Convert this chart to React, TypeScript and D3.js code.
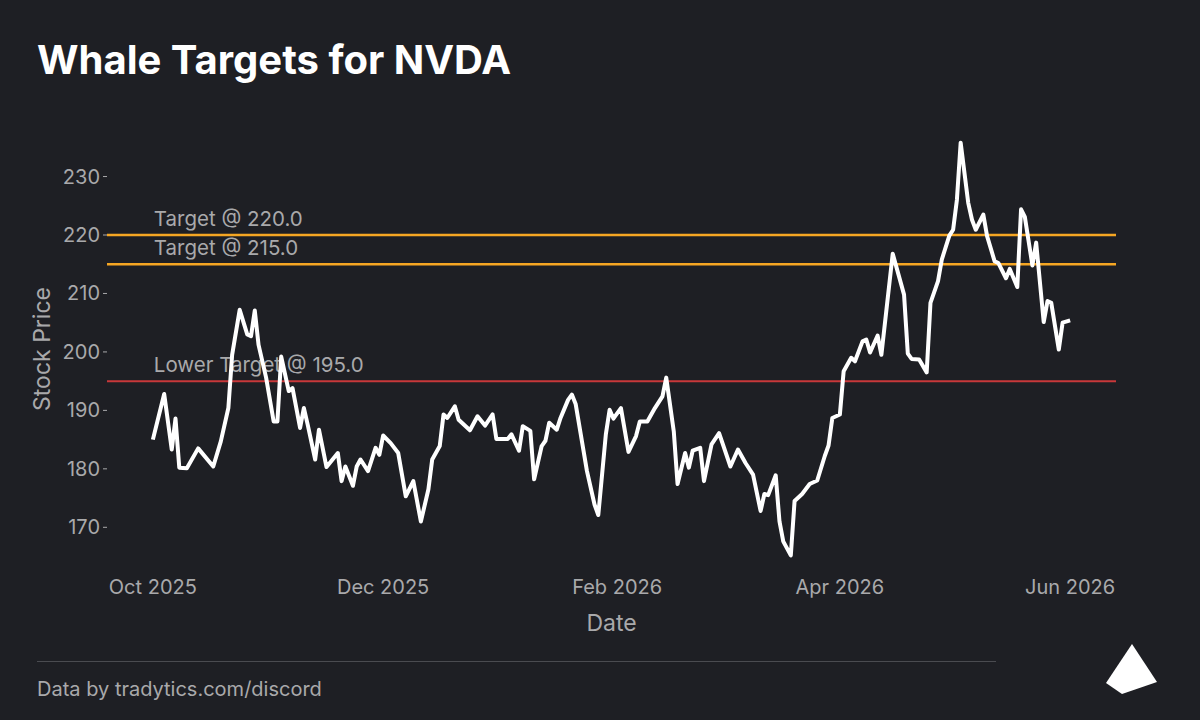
import * as d3 from "d3";

// closing prices
const dates = [
  "2025-10-01", "2025-10-04", "2025-10-06", "2025-10-07", "2025-10-08", "2025-10-10", "2025-10-13", "2025-10-17",
  "2025-10-19", "2025-10-21", "2025-10-22", "2025-10-24", "2025-10-26", "2025-10-27", "2025-10-28", "2025-10-29",
  "2025-10-31", "2025-11-02", "2025-11-03", "2025-11-04", "2025-11-06", "2025-11-07", "2025-11-09", "2025-11-10",
  "2025-11-11", "2025-11-13", "2025-11-14", "2025-11-16", "2025-11-19", "2025-11-20", "2025-11-21", "2025-11-23",
  "2025-11-24", "2025-11-25", "2025-11-27", "2025-11-29", "2025-11-30", "2025-12-01", "2025-12-03", "2025-12-05",
  "2025-12-07", "2025-12-09", "2025-12-11", "2025-12-13", "2025-12-14", "2025-12-16", "2025-12-17", "2025-12-18",
  "2025-12-20", "2025-12-21", "2025-12-24", "2025-12-26", "2025-12-28", "2025-12-30", "2025-12-31", "2026-01-03",
  "2026-01-04", "2026-01-06", "2026-01-07", "2026-01-09", "2026-01-10", "2026-01-12", "2026-01-13", "2026-01-14",
  "2026-01-16", "2026-01-17", "2026-01-19", "2026-01-20", "2026-01-21", "2026-01-24", "2026-01-26", "2026-01-27",
  "2026-01-29", "2026-01-30", "2026-01-31", "2026-02-02", "2026-02-04", "2026-02-06", "2026-02-07", "2026-02-09",
  "2026-02-11", "2026-02-13", "2026-02-14", "2026-02-16", "2026-02-17", "2026-02-19", "2026-02-20", "2026-02-21",
  "2026-02-23", "2026-02-24", "2026-02-26", "2026-02-28", "2026-03-03", "2026-03-05", "2026-03-07", "2026-03-09",
  "2026-03-11", "2026-03-12", "2026-03-13", "2026-03-15", "2026-03-16", "2026-03-17", "2026-03-19", "2026-03-20",
  "2026-03-22", "2026-03-24", "2026-03-26", "2026-03-28", "2026-03-29", "2026-03-30", "2026-04-01", "2026-04-02",
  "2026-04-04", "2026-04-05", "2026-04-07", "2026-04-08", "2026-04-09", "2026-04-11", "2026-04-12", "2026-04-15",
  "2026-04-18", "2026-04-19", "2026-04-20", "2026-04-22", "2026-04-24", "2026-04-25", "2026-04-27", "2026-04-28",
  "2026-04-30", "2026-05-01", "2026-05-02", "2026-05-03", "2026-05-05", "2026-05-06", "2026-05-07", "2026-05-09",
  "2026-05-10", "2026-05-12", "2026-05-13", "2026-05-15", "2026-05-16", "2026-05-18", "2026-05-19", "2026-05-20",
  "2026-05-22", "2026-05-23", "2026-05-25", "2026-05-26", "2026-05-27", "2026-05-29", "2026-05-30", "2026-06-01",
];

const prices = [
  185.0, 192.8, 183.3, 188.6, 180.2, 180.1, 183.5, 180.4,
  184.7, 190.4, 199.5, 207.2, 203.0, 202.7, 207.1, 201.2,
  195.6, 188.1, 188.1, 199.2, 193.3, 193.8, 187.0, 190.4,
  187.6, 181.6, 186.7, 180.3, 182.7, 177.9, 180.4, 177.1,
  180.4, 181.6, 179.6, 183.6, 182.4, 185.7, 184.4, 182.7,
  175.3, 177.9, 171.0, 176.5, 181.6, 183.9, 189.3, 188.7,
  190.7, 188.4, 186.6, 189.0, 187.4, 189.3, 185.1, 185.1,
  185.9, 183.1, 187.3, 186.5, 178.2, 183.9, 184.8, 187.9,
  186.7, 188.7, 191.8, 192.7, 191.1, 179.6, 173.9, 172.1,
  185.9, 190.1, 188.6, 190.4, 182.9, 185.6, 188.1, 188.1,
  190.4, 192.4, 195.6, 186.4, 177.4, 182.7, 180.2, 183.1,
  183.6, 177.9, 184.2, 186.1, 180.4, 183.3, 181.0, 179.0,
  172.8, 175.7, 175.5, 178.9, 171.0, 167.6, 165.2, 174.5,
  175.7, 177.4, 178.0, 182.2, 184.0, 188.7, 189.3, 196.7,
  199.0, 198.4, 201.8, 202.1, 199.9, 202.8, 199.5, 216.8,
  209.8, 199.7, 198.8, 198.7, 196.5, 208.4, 212.1, 215.8,
  219.9, 220.9, 226.0, 235.8, 225.5, 222.6, 220.9, 223.5,
  219.8, 215.5, 215.2, 212.6, 214.2, 211.1, 224.4, 223.1,
  214.8, 218.7, 205.1, 208.7, 208.4, 200.4, 205.0, 205.4,
];

const targets = [220.0, 215.0];
const lowerTargets = [195.0];
const yTicks = [170, 180, 190, 200, 210, 220, 230];
const xTicks = ["2025-10-01", "2025-12-01", "2026-02-01", "2026-04-01", "2026-06-01"];

const W = 1200;
const H = 720;
const plot = { left: 107, right: 1116, top: 122, bottom: 576 };
const bg = "#1e1f24";
const muted = "#a9a9ab";
const font = "Inter, 'Noto Sans', sans-serif";

const parse = d3.utcParse("%Y-%m-%d");

export default function App() {
  const pts = dates.map((d, i) => ({ date: parse(d) as Date, price: prices[i] }));

  // 5% margins around the data, like the original plot
  const [d0, d1] = d3.extent(pts, (p) => +p.date) as [number, number];
  const xPad = (d1 - d0) * 0.05;
  const x = d3
    .scaleUtc()
    .domain([new Date(d0 - xPad), new Date(d1 + xPad)])
    .range([plot.left, plot.right]);

  const [p0, p1] = d3.extent(prices) as [number, number];
  const yPad = (p1 - p0) * 0.05;
  const y = d3
    .scaleLinear()
    .domain([p0 - yPad, p1 + yPad])
    .range([plot.bottom, plot.top]);

  const line = d3
    .line<{ date: Date; price: number }>()
    .x((p) => x(p.date))
    .y((p) => y(p.price));

  const fmt = d3.utcFormat("%b %Y");
  const labelX = x(pts[0].date) + 1;

  return (
    <svg
      width={W}
      height={H}
      style={{ position: "absolute", left: 0, top: 0, background: bg, fontFamily: font }}
    >
      <rect width={W} height={H} fill={bg} />
      <text x={37} y={74} fill="#ffffff" fontSize={40} fontWeight={700}>
        Whale Targets for NVDA
      </text>

      {/* y axis */}
      {yTicks.map((t) => (
        <g key={t} transform={`translate(0,${y(t)})`}>
          <line x1={plot.left - 4} x2={plot.left} stroke={muted} strokeWidth={1} />
          <text x={plot.left - 7} dy="0.35em" textAnchor="end" fill={muted} fontSize={20}>
            {t}
          </text>
        </g>
      ))}
      <text
        transform={`translate(50,${(plot.top + plot.bottom) / 2}) rotate(-90)`}
        textAnchor="middle"
        fill={muted}
        fontSize={23}
      >
        Stock Price
      </text>

      {/* x axis */}
      {xTicks.map((t) => (
        <text key={t} x={x(parse(t) as Date)} y={594} textAnchor="middle" fill={muted} fontSize={20}>
          {fmt(parse(t) as Date)}
        </text>
      ))}
      <text x={(plot.left + plot.right) / 2} y={631} textAnchor="middle" fill={muted} fontSize={23}>
        Date
      </text>

      {/* target levels */}
      {targets.map((t) => (
        <g key={t}>
          <line x1={plot.left} x2={plot.right} y1={y(t)} y2={y(t)} stroke="#f5a623" strokeWidth={2.5} />
          <text x={labelX} y={y(t) - 9} fill={muted} fontSize={20.5}>
            {`Target @ ${t.toFixed(1)}`}
          </text>
        </g>
      ))}
      {lowerTargets.map((t) => (
        <g key={t}>
          <line x1={plot.left} x2={plot.right} y1={y(t)} y2={y(t)} stroke="#c8383a" strokeWidth={2} />
          <text x={labelX} y={y(t) - 9} fill={muted} fontSize={20.5}>
            {`Lower Target @ ${t.toFixed(1)}`}
          </text>
        </g>
      ))}

      <path d={line(pts) ?? ""} fill="none" stroke="#ffffff" strokeWidth={4} strokeLinejoin="round" />

      {/* footer */}
      <line x1={37} x2={996} y1={661.5} y2={661.5} stroke="#4a4b50" strokeWidth={1} />
      <text x={37} y={696} fill={muted} fontSize={20}>
        Data by tradytics.com/discord
      </text>
      <polygon points="1132,644 1157,682 1122,694 1106,683" fill="#ffffff" />
    </svg>
  );
}
